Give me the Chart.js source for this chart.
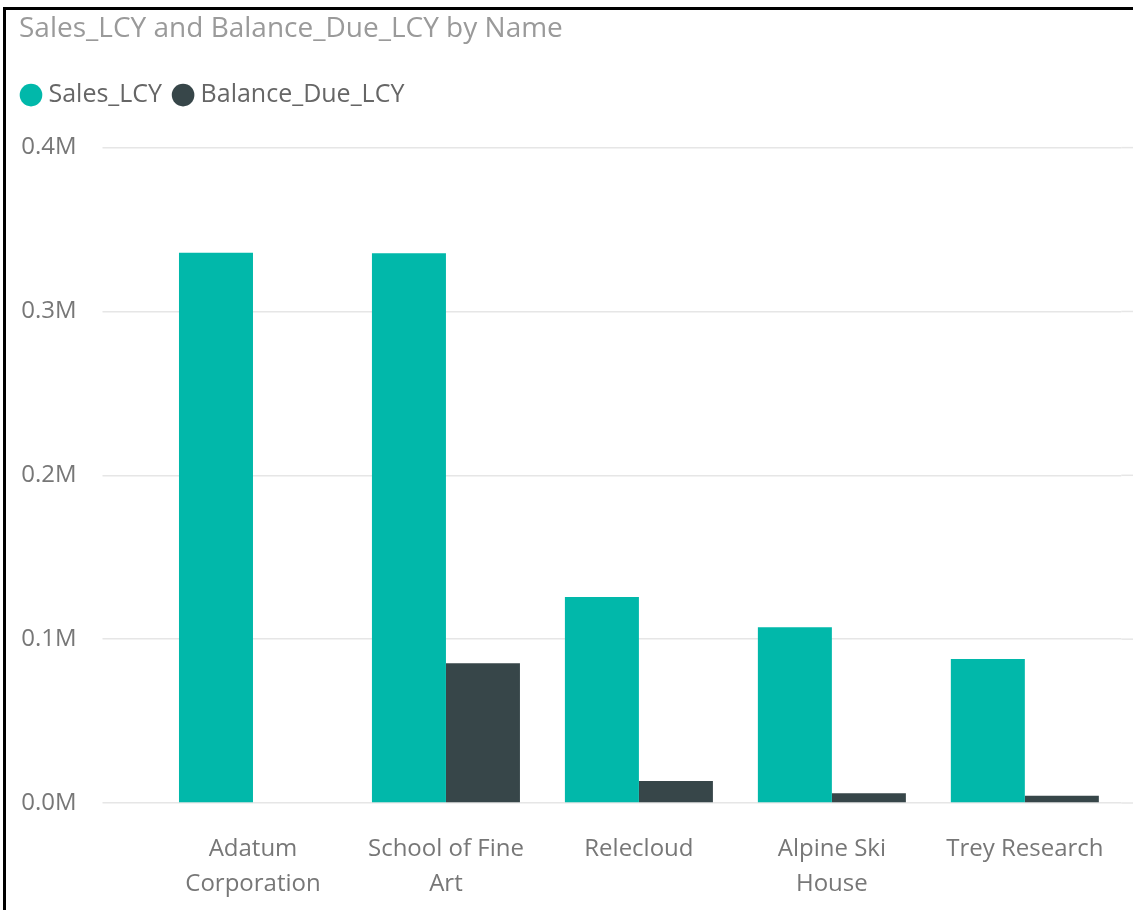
<!DOCTYPE html>
<html>
<head>
<meta charset="utf-8">
<script src="https://cdn.jsdelivr.net/npm/chart.js@4"></script>
<style>
  html, body { margin: 0; padding: 0; background: #fff; }
  #wrap { position: relative; width: 1133px; height: 910px; }
  #frame { position: absolute; left: 3px; top: 7px; right: 0; bottom: 0; border-left: 3px solid #000; border-top: 3px solid #000; pointer-events: none; z-index: 2; }
  canvas { position: absolute; left: 0; top: 0; }
</style>
</head>
<body>
<div id="wrap">
  <canvas id="c" width="1133" height="910"></canvas>
  <div id="frame"></div>
</div>
<script>
const titleText = 'Sales_LCY and Balance_Due_LCY by Name';
const categories = [['Adatum', 'Corporation'], ['School of Fine', 'Art'], 'Relecloud', ['Alpine Ski', 'House'], 'Trey Research'];
const salesLCY = [335900, 335500, 125800, 107300, 87900];
const balanceDueLCY = [0, 85300, 13400, 5900, 4500];
const seriesNames = ['Sales_LCY', 'Balance_Due_LCY'];
const yTicks = [0, 100000, 200000, 300000, 400000];

const FONT = "'Segoe UI', 'Open Sans', 'Noto Sans', sans-serif";
const GRID = '#e6e6e6';

// extend horizontal gridlines to the right edge of the visual
const gridExtend = {
  id: 'gridExtend',
  afterLayout(chart) {
    if (chart.legend) { chart.legend.left -= 9; chart.legend.right -= 9; }
  },
  beforeDatasetsDraw(chart) {
    const { ctx, chartArea, scales } = chart;
    ctx.save();
    ctx.strokeStyle = GRID;
    ctx.lineWidth = 1.5;
    scales.y.ticks.forEach(t => {
      const y = scales.y.getPixelForValue(t.value);
      ctx.beginPath();
      ctx.moveTo(chartArea.right, y);
      ctx.lineTo(chart.width, y);
      ctx.stroke();
    });
    ctx.restore();
  }
};

const chart = new Chart(document.getElementById('c'), {
  type: 'bar',
  data: {
    labels: categories,
    datasets: [
      { label: seriesNames[0], data: salesLCY, backgroundColor: '#01B8AA', borderWidth: 0 },
      { label: seriesNames[1], data: balanceDueLCY, backgroundColor: '#374649', borderWidth: 0 }
    ]
  },
  plugins: [gridExtend],
  options: {
    responsive: false,
    animation: false,
    devicePixelRatio: 1,
    layout: { padding: { left: 19, right: 10, top: 0, bottom: 0 } },
    datasets: { bar: { categoryPercentage: 0.767, barPercentage: 1.0 } },
    plugins: {
      title: {
        display: true, text: titleText, align: 'start', color: '#9a9a9a',
        font: { family: FONT, size: 28, weight: 'normal' },
        padding: { top: 12, bottom: 21 }
      },
      subtitle: {
        display: true, text: '', position: 'top', weight: 500,
        font: { size: 1, lineHeight: 1 },
        padding: { top: 0, bottom: 29 }
      },
      legend: {
        display: true, align: 'start', position: 'top',
        padding: 0,
        labels: {
          usePointStyle: true, pointStyle: 'circle', boxWidth: 10, boxHeight: 16,
          color: '#666666', padding: 16,
          font: { family: FONT, size: 25 }
        }
      },
      tooltip: { enabled: false }
    },
    scales: {
      x: {
        afterFit: (s) => { s.height = 107; },
        grid: { display: false, drawTicks: false },
        border: { display: false },
        ticks: { color: '#777777', font: { family: FONT, size: 24, lineHeight: 1.46 }, padding: 28.5, maxRotation: 0, autoSkip: false }
      },
      y: {
        min: 0, max: 400000,
        afterBuildTicks: (s) => { s.ticks = yTicks.map(v => ({ value: v })); },
        afterFit: (s) => { s.width = 156.5 - 19; },
        grid: { color: GRID, lineWidth: 1.5, tickLength: 54, tickColor: GRID },
        border: { display: false },
        ticks: {
          color: '#777777', padding: 26,
          font: { family: FONT, size: 24 },
          callback: (v) => (v / 1000000).toFixed(1) + 'M'
        }
      }
    }
  }
});
</script>
</body>
</html>
